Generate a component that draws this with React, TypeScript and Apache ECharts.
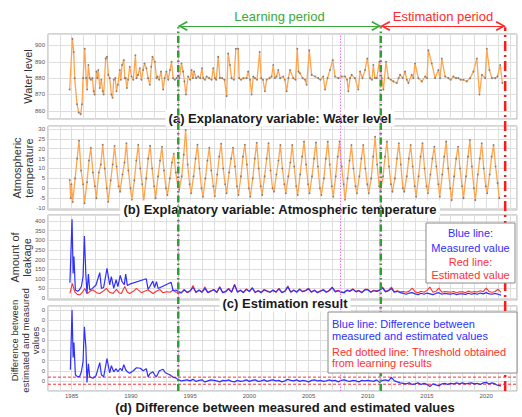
import React, { useEffect, useRef } from 'react';
import * as echarts from 'echarts';

// ---------- axis / tick definitions ----------
const X_MIN = 1983;
const X_MAX = 2022.6;
const xTickLabels = [1985, 1990, 1995, 2000, 2005, 2010, 2015, 2020];
const diffTickValues = [0, 1, 2, 3, 4, 5, 6, 7];
const diffTickLabels = ['0', '0', '0', '0', '0', '0', '0', '0'];

// ---------- period markers (years) ----------
const learningStart = 1994.0;
const learningEnd = 2011.1;
const estimationEnd = 2021.6;
const pinkMarkers = [1994.0, 2007.7, 2011.1];
const thresholds = [0.37, -0.33];

// ---------- (a) water level [year, value] ----------
const waterLevel: [number, number][] = [
  [1984.83, 873], [1985.06, 904], [1985.17, 896], [1985.25, 880], [1985.45, 864], [1985.59, 859],
  [1985.76, 858], [1985.87, 864], [1985.96, 880], [1986.1, 898], [1986.22, 880], [1986.3, 873],
  [1986.41, 888], [1986.52, 880], [1986.62, 879], [1986.75, 880], [1986.85, 872], [1986.94, 870],
  [1987.09, 884], [1987.17, 880], [1987.25, 885], [1987.37, 874], [1987.5, 879], [1987.62, 872],
  [1987.7, 870], [1987.87, 892], [1987.98, 893], [1988.1, 882], [1988.21, 880], [1988.35, 870],
  [1988.45, 868], [1988.55, 879], [1988.68, 880], [1988.78, 872], [1988.9, 876], [1989.06, 885],
  [1989.15, 879], [1989.25, 888], [1989.4, 891], [1989.48, 880], [1989.56, 880], [1989.66, 874],
  [1989.76, 879], [1989.9, 887], [1990.05, 881], [1990.2, 879], [1990.38, 894], [1990.47, 880],
  [1990.6, 882], [1990.75, 886], [1990.89, 879], [1991.03, 885], [1991.15, 889], [1991.31, 886],
  [1991.45, 880], [1991.6, 876], [1991.72, 887], [1991.82, 893], [1992.02, 890], [1992.16, 880],
  [1992.25, 881], [1992.38, 879], [1992.55, 884], [1992.72, 873], [1992.85, 880], [1993.0, 884],
  [1993.15, 879], [1993.3, 885], [1993.43, 890], [1993.56, 880], [1993.7, 879], [1993.85, 880],
  [1993.98, 881], [1994.1, 880], [1994.27, 889], [1994.41, 884], [1994.52, 878], [1994.64, 870],
  [1994.83, 881], [1995.0, 879], [1995.12, 885], [1995.24, 880], [1995.34, 884], [1995.5, 880],
  [1995.68, 881], [1995.85, 880], [1996.0, 886], [1996.1, 880], [1996.25, 879], [1996.39, 881],
  [1996.6, 880], [1996.81, 879], [1996.95, 886], [1997.09, 880], [1997.2, 879], [1997.37, 893],
  [1997.51, 880], [1997.7, 880], [1997.9, 879], [1998.08, 869], [1998.21, 895], [1998.36, 888],
  [1998.5, 880], [1998.7, 879], [1998.86, 898], [1999.06, 898], [1999.14, 880], [1999.3, 879],
  [1999.5, 880], [1999.77, 880], [1999.9, 884], [2000.05, 879], [2000.19, 870], [2000.33, 881],
  [2000.47, 880], [2000.65, 879], [2000.87, 896], [2001.0, 880], [2001.15, 879], [2001.31, 872],
  [2001.46, 879], [2001.7, 880], [2001.88, 881], [2002.02, 888], [2002.15, 880], [2002.3, 881],
  [2002.44, 885], [2002.6, 880], [2002.86, 881], [2003.0, 879], [2003.15, 872], [2003.3, 880],
  [2003.43, 885], [2003.71, 880], [2003.9, 879], [2004.05, 898], [2004.15, 884], [2004.27, 883],
  [2004.5, 880], [2004.7, 879], [2004.84, 876], [2005.06, 897], [2005.26, 882], [2005.54, 881],
  [2005.82, 880], [2006.0, 879], [2006.24, 881], [2006.39, 873], [2006.6, 880], [2006.81, 885],
  [2007.04, 891], [2007.23, 881], [2007.51, 880], [2007.8, 881], [2008.08, 881], [2008.25, 879],
  [2008.36, 872], [2008.5, 880], [2008.64, 882], [2008.92, 880], [2009.2, 873], [2009.35, 884],
  [2009.55, 880], [2009.77, 885], [2009.96, 892], [2010.19, 880], [2010.35, 879], [2010.47, 888],
  [2010.6, 880], [2010.76, 880], [2010.98, 890], [2011.18, 880], [2011.32, 873], [2011.54, 890],
  [2011.74, 880], [2011.95, 879], [2012.16, 878], [2012.45, 877], [2012.6, 880], [2012.73, 882],
  [2012.95, 880], [2013.15, 884], [2013.3, 879], [2013.43, 877], [2013.71, 882], [2013.85, 880],
  [2013.99, 889], [2014.27, 880], [2014.56, 878], [2014.84, 881], [2015.0, 880], [2015.12, 897],
  [2015.4, 889], [2015.68, 880], [2015.96, 885], [2016.1, 880], [2016.25, 892], [2016.53, 881],
  [2016.81, 880], [2017.0, 879], [2017.23, 881], [2017.45, 880], [2017.65, 880], [2017.85, 879],
  [2018.08, 879], [2018.36, 878], [2018.64, 880], [2018.92, 884], [2019.21, 892], [2019.43, 870],
  [2019.63, 882], [2019.91, 880], [2020.05, 898], [2020.27, 885], [2020.48, 880], [2020.76, 880],
  [2020.95, 881], [2021.18, 888], [2021.37, 877],
];

// ---------- (b) atmospheric temperature ----------
const tempMonthFrac = [0.08, 0.29, 0.46, 0.62, 0.79, 0.96];
const tempFirstYear = 1985;
const tempHead: [number, number][] = [[1984.83, 4.2], [1984.92, -5], [1984.98, 2]];
const tempRows: number[][] = [
  [-7, 5, 15, 24, 9, 2],
  [-7.6, 3, 14, 20.5, 8, 1],
  [-5, 8, 12, 22, 10, 0],
  [-6.8, 4, 12, 21.5, 11, 1],
  [-1.7, 7, 13, 22.8, 9, 0],
  [-6, 4, 14, 22, 10, 2],
  [-6.8, 5, 15, 21.5, 10, 1],
  [-5, 6, 14, 21, 9, 0],
  [-3.4, 5, 13, 17.5, 8, 1],
  [-0.8, 6, 17, 29.5, 12, 2],
  [-2.5, 6, 15, 22, 10, 0],
  [-4.3, 5, 14, 20.5, 9, 1],
  [-4, 7, 16, 22.5, 10, 2],
  [-2.5, 8, 15, 20.5, 11, 1],
  [-3.4, 6, 16, 22, 12, 0],
  [-4.3, 5, 15, 23, 10, 1],
  [-3.4, 6, 15, 22.8, 9, 0],
  [-1.7, 7, 14, 21.9, 10, 2],
  [-2.5, 6, 13, 21.9, 11, 1],
  [-3.4, 7, 16, 23.6, 12, 2],
  [-2.5, 6, 15, 23.1, 11, 0],
  [-3.4, 5, 15, 23.6, 12, 1],
  [-4.3, 6, 16, 23.6, 11, 2],
  [-6, 5, 14, 21.9, 10, 1],
  [-2.5, 6, 15, 21.9, 10, 2],
  [-2.5, 5, 16, 26.1, 12, 1],
  [-1, 6, 16, 23.6, 11, 2],
  [-1.7, 5, 15, 22.8, 12, 0],
  [-1.7, 6, 15, 21.9, 11, 1],
  [-4.3, 6, 16, 22.8, 10, 1],
  [-2.5, 7, 15, 21, 11, 2],
  [-4.3, 7, 16, 23.6, 10, 0],
  [-6, 6, 15, 21, 10, 1],
  [-5, 6, 16, 24.4, 11, 0],
  [-6, 7, 15, 22.8, 10, 1],
  [-2.5, 7, 16, 21.9, 11, 2.6],
];
const tempTail: [number, number][] = [[2021.1, -5]];

// ---------- (c) leakage, (d) difference ----------
const leakBlueEarly: [number, number][] = [
  [1984.85, 80], [1985.03, 409], [1985.12, 128], [1985.19, 215], [1985.31, 42], [1985.5, 35],
  [1985.62, 40], [1985.82, 60], [1985.96, 111], [1986.07, 322], [1986.2, 118], [1986.29, 24],
  [1986.41, 125], [1986.52, 42], [1986.75, 50], [1987.05, 68], [1987.37, 132], [1987.51, 50],
  [1987.7, 55], [1987.98, 154], [1988.21, 68], [1988.35, 111], [1988.55, 50], [1988.75, 95],
  [1988.9, 60], [1989.1, 118], [1989.25, 85], [1989.45, 70], [1989.56, 125], [1989.7, 65],
  [1989.9, 72], [1991.3, 100], [1991.45, 45], [1991.6, 60], [1991.85, 88], [1992.0, 55],
  [1992.16, 85], [1992.3, 50], [1993.4, 82], [1993.56, 38], [1993.8, 42],
];
const leakRedEarly: [number, number][] = [
  [1984.85, 24], [1985.06, 76], [1985.25, 33], [1985.45, 20], [1985.68, 16], [1985.9, 30],
  [1986.1, 50], [1986.3, 24], [1986.55, 35], [1986.8, 42], [1987.1, 28], [1987.37, 24],
  [1987.65, 35], [1987.93, 50], [1988.2, 30], [1988.49, 24], [1988.78, 45], [1989.0, 28],
  [1989.2, 24], [1989.48, 60], [1989.7, 30], [1989.9, 24], [1990.2, 35], [1990.47, 50],
  [1990.89, 28], [1991.15, 35], [1991.45, 42], [1991.87, 24], [1992.15, 35], [1992.44, 45],
  [1992.7, 28], [1993.0, 33], [1993.3, 30], [1993.56, 42], [1993.8, 30],
];
const diffEarly: [number, number][] = [
  [1984.89, 1.1], [1985.03, 7.0], [1985.12, 2.3], [1985.19, 3.8], [1985.31, 0.6], [1985.5, 0.4],
  [1985.68, 0.45], [1985.82, 0.9], [1985.96, 1.9], [1986.07, 5.35], [1986.2, 3.3], [1986.29, -0.16],
  [1986.41, 1.68], [1986.52, 0.4], [1986.8, 0.26], [1987.05, 0.5], [1987.37, 1.8], [1987.51, 0.6],
  [1987.7, 0.4], [1987.98, 2.2], [1988.21, 0.8], [1988.35, 1.5], [1988.55, 0.9], [1988.75, 1.2],
  [1988.9, 0.9], [1989.1, 1.25], [1989.25, 1.0], [1989.4, 1.6], [1989.56, 1.1], [1989.7, 0.9],
  [1989.9, 0.75], [1990.2, 1.0], [1990.47, 1.3], [1990.8, 1.25], [1991.03, 1.0], [1991.3, 1.2],
  [1991.45, 0.4], [1991.6, 0.7], [1991.85, 0.9], [1992.0, 0.6], [1992.16, 0.4], [1992.4, 1.0],
  [1992.72, 1.15], [1992.9, 0.8], [1993.28, 0.6], [1993.56, 0.35], [1993.8, 0.3],
];

// quarterly values from 1994.0
const lateStart = 1994.0;
const lateStep = 0.25;
const leakBlueLate = [
  35, 28, 42, 30, 38, 55, 30, 42, 30, 50, 28, 35, 45, 30, 55, 28, 33, 48, 30, 68,
  30, 40, 28, 45, 35, 52, 30, 38, 28, 42, 35, 30, 40, 32, 48, 28, 35, 58, 30, 40,
  30, 45, 33, 38, 48, 30, 40, 28, 35, 42, 30, 38, 55, 32, 38, 30, 28, 40, 35, 45,
  32, 38, 28, 42, 44, 30, 38, 35, 40, 52, 32, 38, 50, 30, 35, 28, 24, 20, 26, 28,
  22, 18, 25, 20, 26, 22, 18, 24, 28, 20, 24, 22, 20, 24, 18, 22, 22, 19, 25, 20,
  24, 20, 26, 22, 28, 22, 20, 24, 20, 15,
];
const leakRedLate = [
  32, 25, 45, 28, 35, 65, 28, 40, 32, 58, 30, 38, 42, 28, 60, 30, 35, 50, 32, 72,
  32, 42, 30, 48, 33, 55, 28, 40, 30, 45, 38, 32, 42, 30, 50, 30, 36, 62, 32, 42,
  32, 48, 35, 40, 51, 32, 42, 30, 38, 45, 32, 40, 57, 35, 40, 32, 30, 42, 38, 48,
  35, 40, 30, 45, 46, 32, 40, 38, 42, 57, 35, 40, 57, 33, 38, 32, 34, 30, 36, 52,
  32, 28, 35, 30, 40, 57, 30, 35, 52, 30, 34, 32, 30, 34, 28, 33, 32, 29, 36, 30,
  34, 31, 38, 33, 52, 33, 30, 34, 46, 30,
];
const diffLate = [
  0.1, 0.0, 0.05, 0.1, 0.0, 0.15, -0.05, 0.05, 0.1, -0.1, 0.0, 0.1, 0.05, 0.0, -0.1, 0.05,
  0.0, 0.1, -0.05, -0.1, 0.05, -0.05, 0.0, 0.1, -0.05, 0.05, 0.1, -0.05, 0.0, 0.1, -0.05, 0.05,
  0.1, 0.0, 0.05, -0.1, 0.0, 0.15, 0.05, 0.0, 0.1, -0.05, 0.05, 0.0, -0.1, 0.05, 0.1, 0.0,
  0.05, -0.05, 0.0, 0.1, 0.0, 0.05, -0.1, 0.05, 0.1, 0.0, -0.05, 0.05, 0.0, -0.1, 0.05, 0.0,
  0.05, 0.0, -0.05, 0.1, -0.15, 0.05, 0.1, 0.0, 0.35, 0.0, -0.1, -0.2, -0.25, -0.3, -0.2, -0.35,
  -0.3, -0.2, -0.35, -0.25, -0.35, -0.55, -0.3, -0.4, -0.5, -0.3, -0.25, -0.35, -0.25, -0.3, -0.2, -0.3,
  -0.2, -0.3, -0.25, -0.2, -0.3, -0.25, -0.35, -0.2, -0.15, -0.3, -0.2, -0.3, -0.45, -0.5,
];

// ---------- styles ----------
const FONT = '"Liberation Sans", Arial, sans-serif';
const ORANGE = '#ffa54f';
const BLUE = '#2f2fff';
const RED = '#ff3030';
const GREEN = '#2f9f2f';
const PINK = '#f070f0';
const GRID_LINE = '#dedede';

const lateSeries = (vals: number[]): [number, number][] => vals.map((v, i) => [lateStart + i * lateStep, v]);

export default function App() {
  const ref = useRef<HTMLDivElement>(null);
  useEffect(() => {
    if (!ref.current) return;
    const chart = echarts.init(ref.current, undefined, { renderer: 'svg' });

    const tempData: [number, number][] = [...tempHead];
    tempRows.forEach((row, r) => row.forEach((v, k) => tempData.push([tempFirstYear + r + tempMonthFrac[k], v])));
    tempData.push(...tempTail);

    const grids = [
      { left: 48, right: 5, top: 34, height: 85 },
      { left: 48, right: 5, top: 126, height: 84 },
      { left: 48, right: 5, top: 215, height: 85 },
      { left: 48, right: 5, top: 306, height: 85 },
    ].map((g) => ({ ...g, show: true, borderColor: '#a8a8a8', borderWidth: 1 }));
    const overlayGrid = { left: 48, right: 5, top: 10, height: 381, show: false };

    const xAxes = [0, 1, 2, 3].map((i) => ({
      type: 'value', gridIndex: i, min: X_MIN, max: X_MAX, interval: 1,
      axisLine: { show: false }, axisTick: { show: false },
      splitLine: { show: true, lineStyle: { color: GRID_LINE, width: 1 } },
      axisLabel: {
        show: i === 3, fontSize: 6, color: '#555', margin: 2, showMaxLabel: false, showMinLabel: false,
        formatter: (v: number) => (xTickLabels.includes(v) ? String(v) : ''),
      },
    }));
    xAxes.push({ type: 'value', gridIndex: 4, min: X_MIN, max: X_MAX, show: false } as any);

    const yName = (name: string, gap: number, size = 11, lh = 12, padding: number[] = [0, 0, 0, 0]) => ({
      name, nameLocation: 'middle', nameGap: gap, nameRotate: 90, nameMoveOverlap: false,
      nameTextStyle: { fontSize: size, color: '#333', lineHeight: lh, fontFamily: FONT, padding },
    });
    const yCommon = {
      type: 'value', axisLine: { show: false }, axisTick: { show: false },
      splitLine: { show: true, lineStyle: { color: GRID_LINE, width: 1 } },
      axisLabel: { fontSize: 6, color: '#555', margin: 3, showMinLabel: false, showMaxLabel: false },
    };
    const yAxes: any[] = [
      { ...yCommon, gridIndex: 0, min: 855, max: 907, splitNumber: 5, ...yName('Water level', 14) },
      { ...yCommon, gridIndex: 1, min: -11, max: 31.5, splitNumber: 8, ...yName('Atmospheric\ntemperature', 13) },
      { ...yCommon, gridIndex: 2, min: -10, max: 431, splitNumber: 9, ...yName('Amount of\nleakage', 15) },
      {
        ...yCommon, gridIndex: 3, min: -1, max: 7.4, splitNumber: 8,
        ...yName('Difference between\nestimated and measured\nvalues', 7, 9.5, 10.5, [0, 0, 0, 16]),
        axisLabel: {
          ...yCommon.axisLabel,
          formatter: (v: number) => {
            const idx = diffTickValues.indexOf(v);
            return idx >= 0 ? diffTickLabels[idx] : '';
          },
        },
      },
      { type: 'value', gridIndex: 4, min: 0, max: 100, show: false },
    ];

    const TOP_Y = 95.5; // overlay units
    const ARROW_Y = 95.8;
    const PLOT_TOP = 93.7;
    const chevron = 'path://M5,0 M5,9 L10,18 L8.6,19 L5,12.2 L1.4,19 L0,18 Z';

    const vLine = (x: number, top: number, color: string, width: number, dash: number[] | string, z: number) => ({
      type: 'line', xAxisIndex: 4, yAxisIndex: 4, data: [[x, 0], [x, top]], symbol: 'none', silent: true, z,
      lineStyle: { color, width, type: dash, cap: 'butt' },
    });

    const series: any[] = [
      {
        type: 'line', xAxisIndex: 0, yAxisIndex: 0, data: waterLevel, symbol: 'circle', symbolSize: 1.8,
        itemStyle: { color: '#808080' }, lineStyle: { color: ORANGE, width: 1.3 }, silent: true,
      },
      {
        type: 'line', xAxisIndex: 1, yAxisIndex: 1, data: tempData, symbol: 'circle', symbolSize: 1.8,
        itemStyle: { color: '#808080' }, lineStyle: { color: ORANGE, width: 1.3 }, silent: true,
      },
      {
        type: 'line', xAxisIndex: 2, yAxisIndex: 2, data: [...leakRedEarly, ...lateSeries(leakRedLate)],
        symbol: 'none', lineStyle: { color: RED, width: 1.1 }, silent: true,
      },
      {
        type: 'line', xAxisIndex: 2, yAxisIndex: 2, data: [...leakBlueEarly, ...lateSeries(leakBlueLate)],
        symbol: 'none', lineStyle: { color: BLUE, width: 1.2 }, silent: true,
      },
      ...thresholds.map((t) => ({
        type: 'line', xAxisIndex: 3, yAxisIndex: 3, data: [[X_MIN, t], [X_MAX, t]], symbol: 'none', silent: true,
        lineStyle: { color: RED, width: 1, type: [3, 2] },
      })),
      {
        type: 'line', xAxisIndex: 3, yAxisIndex: 3, data: [...diffEarly, ...lateSeries(diffLate)],
        symbol: 'none', lineStyle: { color: BLUE, width: 1.2 }, silent: true,
      },
      ...pinkMarkers.map((x) => vLine(x, PLOT_TOP, PINK, 1, [1.5, 1.5], 55)),
      {
        ...vLine(learningStart, TOP_Y, GREEN, 2.5, [7, 3, 1.5, 3], 60),
        markLine: {
          silent: true, symbol: [chevron, chevron], symbolSize: [10, 19], precision: 4,
          lineStyle: { color: '#3aa83a', width: 1.2, type: 'solid' },
          label: { show: true, position: 'middle', formatter: 'Learning period', color: '#3aa83a', fontSize: 13, fontFamily: FONT, distance: 3 },
          data: [[{ coord: [learningStart, ARROW_Y] }, { coord: [learningEnd, ARROW_Y] }]],
        },
      },
      vLine(learningEnd, TOP_Y, GREEN, 2.5, [7, 3, 1.5, 3], 60),
      {
        ...vLine(estimationEnd, TOP_Y, '#ff1a1a', 2.5, [10, 4, 2, 4], 60),
        markLine: {
          silent: true, symbol: [chevron, chevron], symbolSize: [10, 19], precision: 4,
          lineStyle: { color: '#ff2a2a', width: 1.2, type: 'solid' },
          label: { show: true, position: 'middle', formatter: 'Estimation period', color: '#ff2a2a', fontSize: 13, fontFamily: FONT, distance: 3 },
          data: [[{ coord: [learningEnd, ARROW_Y] }, { coord: [estimationEnd, ARROW_Y] }]],
        },
      },
    ];

    const title = (text: string, x: number, y: number) => ({
      type: 'text', x, y, z: 50,
      style: {
        text, font: `bold 13px ${FONT}`, fill: '#1a1a1a', align: 'center', verticalAlign: 'middle',
        textAlign: 'center', textVerticalAlign: 'middle', backgroundColor: '#ffffff', padding: [2, 3],
      },
    });
    const label = (text: string, x: number, y: number, color: string, align: string) => ({
      type: 'text', x, y, z: 101,
      style: {
        text, font: `11px ${FONT}`, fill: color, align, verticalAlign: 'middle',
        textAlign: align, textVerticalAlign: 'middle',
      },
    });

    const graphic: any[] = [
      title('(a) Explanatory variable: Water level', 280, 118),
      title('(b) Explanatory variable: Atmospheric temperature', 280, 209),
      title('(c) Estimation result', 285, 303),
      title('(d) Difference between measured and estimated values', 285, 407),
      { type: 'rect', z: 100, shape: { x: 426, y: 223, width: 89, height: 60 }, style: { fill: '#fff', stroke: '#8a8a8a', lineWidth: 1 } },
      label('Blue line:', 470.5, 233, BLUE, 'center'),
      label('Measured value', 470.5, 248, BLUE, 'center'),
      label('Red line:', 470.5, 262, RED, 'center'),
      label('Estimated value', 470.5, 275, RED, 'center'),
      { type: 'rect', z: 100, shape: { x: 328, y: 312, width: 189, height: 61 }, style: { fill: '#fff', stroke: '#8a8a8a', lineWidth: 1 } },
      label('Blue line: Difference between', 332, 324, BLUE, 'left'),
      label('measured and estimated values', 332, 336, BLUE, 'left'),
      label('Red dotted line: Threshold obtained', 332, 352, RED, 'left'),
      label('from learning results', 332, 363, RED, 'left'),
    ];

    chart.setOption({
      animation: false,
      textStyle: { fontFamily: FONT },
      grid: [...grids, overlayGrid],
      xAxis: xAxes,
      yAxis: yAxes,
      series,
      graphic,
    });
    return () => chart.dispose();
  }, []);
  return <div ref={ref} style={{ position: 'fixed', left: 0, top: 0, width: 522, height: 417, background: '#fff' }} />;
}
